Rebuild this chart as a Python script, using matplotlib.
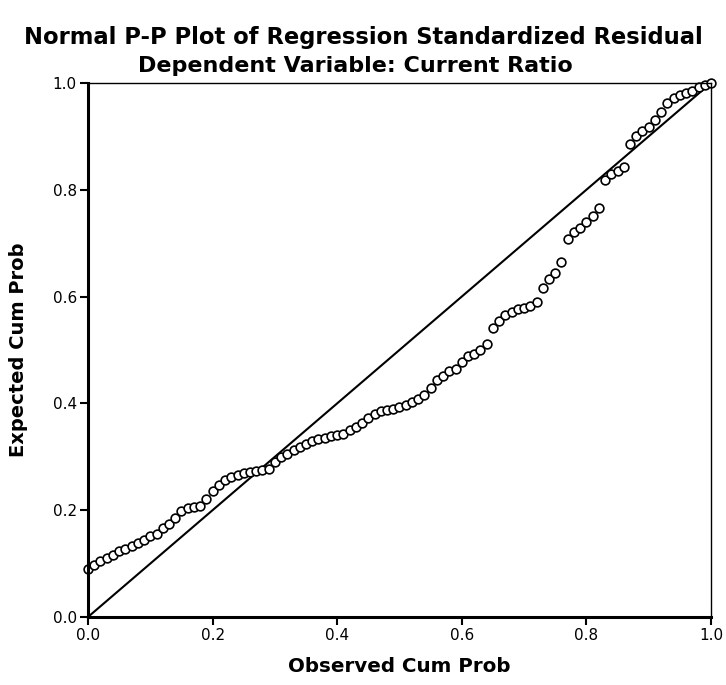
import matplotlib
matplotlib.use("Agg")
import matplotlib.pyplot as plt

# observed cumulative probability (x) and expected cumulative probability (y)
observed = [0.00, 0.01, 0.02, 0.03, 0.04, 0.05, 0.06, 0.07, 0.08, 0.09,
            0.10, 0.11, 0.12, 0.13, 0.14, 0.15, 0.16, 0.17, 0.18, 0.19,
            0.20, 0.21, 0.22, 0.23, 0.24, 0.25, 0.26, 0.27, 0.28, 0.29,
            0.30, 0.31, 0.32, 0.33, 0.34, 0.35, 0.36, 0.37, 0.38, 0.39,
            0.40, 0.41, 0.42, 0.43, 0.44, 0.45, 0.46, 0.47, 0.48, 0.49,
            0.50, 0.51, 0.52, 0.53, 0.54, 0.55, 0.56, 0.57, 0.58, 0.59,
            0.60, 0.61, 0.62, 0.63, 0.64, 0.65, 0.66, 0.67, 0.68, 0.69,
            0.70, 0.71, 0.72, 0.73, 0.74, 0.75, 0.76, 0.77, 0.78, 0.79,
            0.80, 0.81, 0.82, 0.83, 0.84, 0.85, 0.86, 0.87, 0.88, 0.89,
            0.90, 0.91, 0.92, 0.93, 0.94, 0.95, 0.96, 0.97, 0.98, 0.99, 1.00]
expected = [0.090, 0.098, 0.104, 0.110, 0.116, 0.123, 0.128, 0.133, 0.139, 0.145,
            0.151, 0.156, 0.166, 0.174, 0.185, 0.198, 0.204, 0.206, 0.208, 0.220,
            0.235, 0.247, 0.256, 0.262, 0.266, 0.270, 0.272, 0.273, 0.275, 0.278,
            0.290, 0.300, 0.306, 0.312, 0.318, 0.324, 0.330, 0.334, 0.336, 0.338,
            0.340, 0.343, 0.350, 0.356, 0.364, 0.372, 0.380, 0.385, 0.388, 0.390,
            0.393, 0.397, 0.402, 0.408, 0.416, 0.428, 0.443, 0.452, 0.460, 0.465,
            0.478, 0.488, 0.493, 0.500, 0.512, 0.542, 0.554, 0.565, 0.572, 0.576,
            0.579, 0.583, 0.590, 0.616, 0.632, 0.645, 0.665, 0.708, 0.720, 0.728,
            0.740, 0.750, 0.765, 0.818, 0.830, 0.836, 0.843, 0.886, 0.900, 0.910,
            0.918, 0.930, 0.946, 0.962, 0.972, 0.978, 0.981, 0.984, 0.992, 0.997, 1.000]
ticks = [0.0, 0.2, 0.4, 0.6, 0.8, 1.0]
tick_labels = ["0.0", "0.2", "0.4", "0.6", "0.8", "1.0"]

plt.rcParams['font.family'] = ['DejaVu Sans']

fig = plt.figure(figsize=(7.26, 6.85), dpi=100)
ax = fig.add_axes([0.1212, 0.0993, 0.8581, 0.7796])

# reference line
ax.plot([0, 1], [0, 1], color='black', lw=1.5)
ax.plot(observed, expected, 'o', markersize=6.3, markerfacecolor='white',
        markeredgecolor='black', markeredgewidth=1.2, clip_on=False)

ax.set_xlim(0, 1)
ax.set_ylim(0, 1)
ax.set_xticks(ticks)
ax.set_xticklabels(tick_labels)
ax.set_yticks(ticks)
ax.set_yticklabels(tick_labels)
ax.tick_params(direction='out', length=6, width=1.5, labelsize=11, pad=2)

for side in ['left', 'bottom']:
    ax.spines[side].set_linewidth(2.2)
for side in ['top', 'right']:
    ax.spines[side].set_linewidth(1.0)
    ax.spines[side].set_linestyle((0, (2, 1)))

ax.set_xlabel('Observed Cum Prob', fontsize=14.3, fontweight='bold', labelpad=10)
ax.set_ylabel('Expected Cum Prob', fontsize=14, fontweight='bold', labelpad=18)

fig.text(0.501, 0.945, 'Normal P-P Plot of Regression Standardized Residual',
         ha='center', va='center', fontsize=16.3, fontweight='bold')
fig.text(0.489, 0.903, 'Dependent Variable: Current Ratio',
         ha='center', va='center', fontsize=16, fontweight='bold')

fig.savefig('out.png', dpi=100)
